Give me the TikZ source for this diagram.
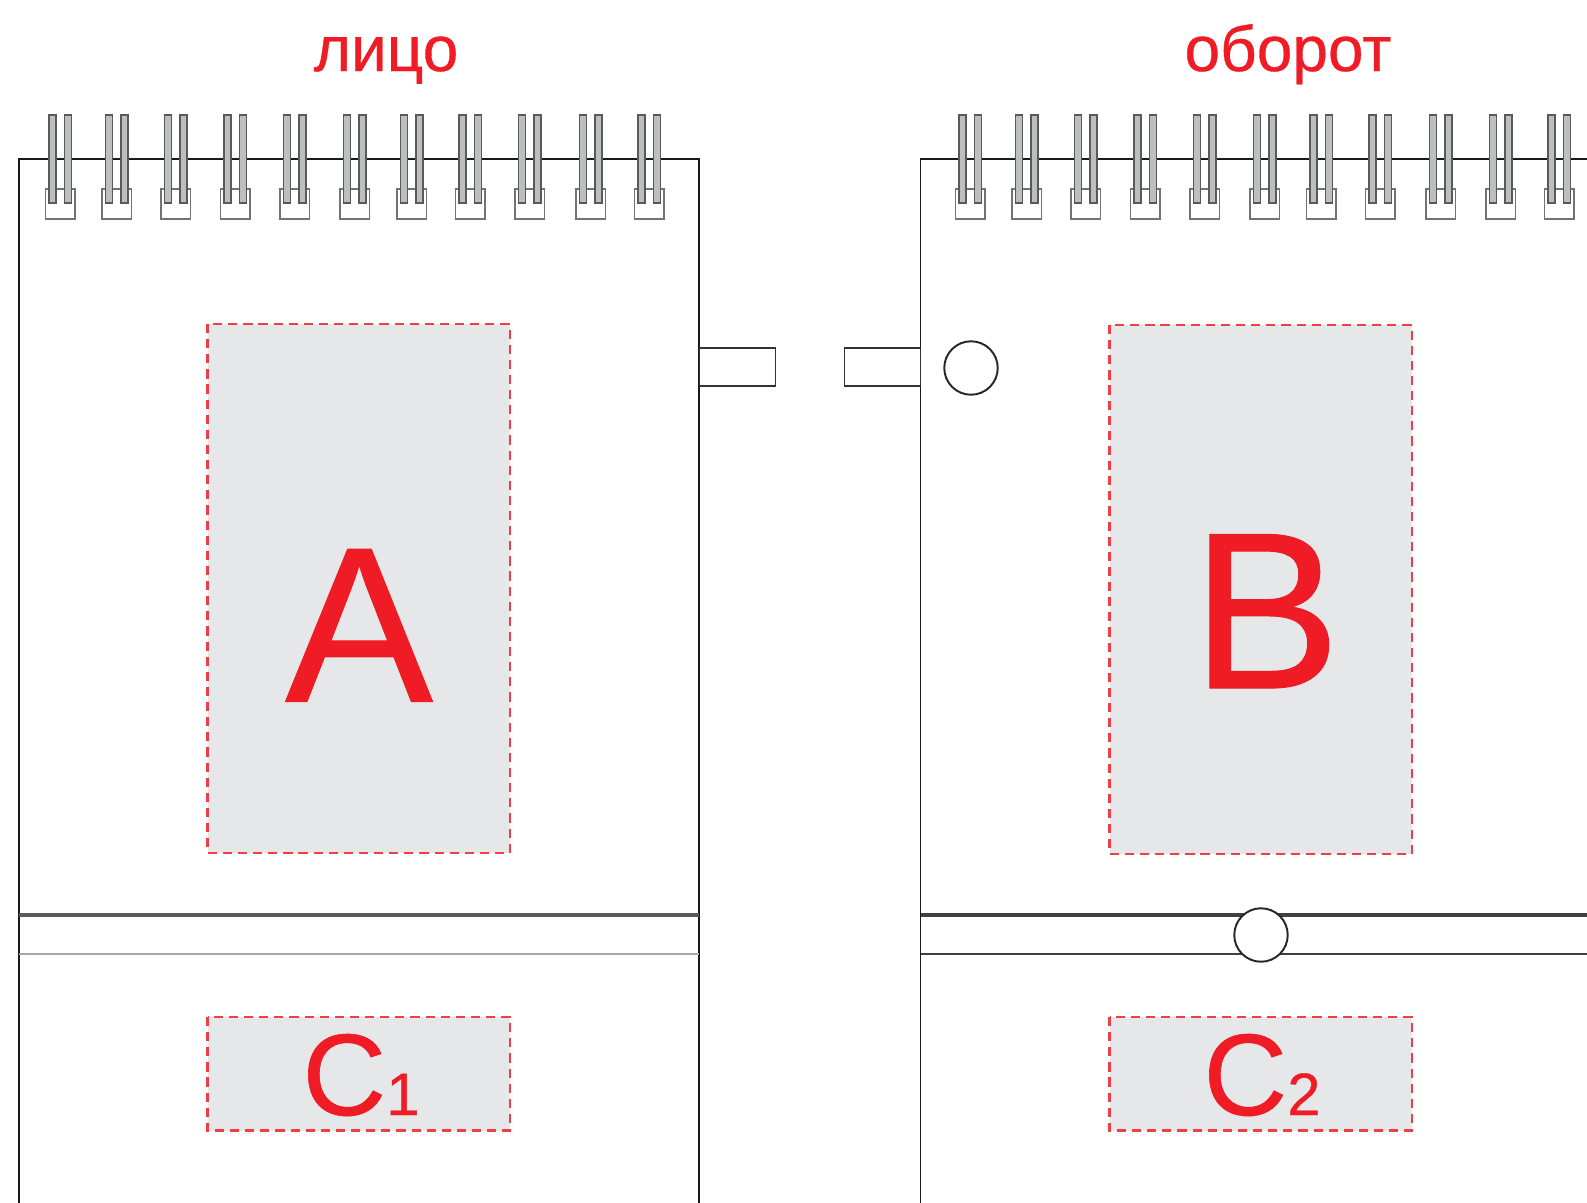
\documentclass[tikz,border=0pt]{standalone}
\usepackage{fontspec}
\setmainfont{Liberation Sans}
\newfontfamily\markfont[FakeBold=0.5]{Liberation Sans}
\definecolor{markred}{HTML}{EF1C25}
\definecolor{zonegray}{HTML}{E6E7E8}
\definecolor{wiregray}{HTML}{BCBEC0}
\tikzset{
  zone/.style={draw=markred!85,fill=zonegray,dash pattern=on 2.6pt off 1.7pt,line width=.6pt},
  tabbox/.style={draw=black!80,fill=white,line width=.55pt,inner sep=0pt,minimum width=21.6pt,minimum height=10.8pt},
  hole/.style={circle,draw=black!85,fill=white,line width=.55pt,inner sep=0pt,minimum size=15.2pt},
  redtext/.style={text=markred,inner sep=0pt}
}
\newcommand{\wire}[1]{
  \draw [draw=black!65,fill=wiregray,line width=.4pt] (#1+3.5,115) rectangle (#1+10.5,203);
  \draw [draw=black!65,fill=wiregray,line width=.4pt] (#1+19,115) rectangle (#1+26,203);
}
\begin{document}
\begin{tikzpicture}[x=.01cm,y=-.01cm,line width=.55pt]
\useasboundingbox (0,0) rectangle (1587,1203);
% pages
\draw [black!90] (19,1203) -- (19,159) -- (699,159) -- (699,1203);
\draw [black!90] (920.5,1203) -- (920.5,159) -- (1587,159);
% folds
\coordinate (foldaL) at (19,915);
\coordinate (foldaR) at (699,915);
\coordinate (foldbL) at (19,954);
\coordinate (foldbR) at (699,954);
\coordinate (foldcL) at (920.5,915);
\coordinate (foldcR) at (1587,915);
\coordinate (folddL) at (920.5,954);
\coordinate (folddR) at (1587,954);
\draw [black!65,line width=.9pt] (foldaL) -- (foldaR);
\draw [black!35,line width=.6pt] (foldbL) -- (foldbR);
\draw [black!75,line width=.9pt] (foldcL) -- (foldcR);
\draw [black!75,line width=.55pt] (folddL) -- (folddR);
% wires
\foreach \x in {45.5,102,161,220.6,280,340,397,455.5,515,576,634.6,955.4,1012,1071,1130.5,1190,1250,1306.6,1365.4,1426,1486,1544.5}{
  \draw [black!55,fill=white,line width=.35pt] (\x,189) rectangle (\x+29.5,219);
  \wire{\x}
}
% zones
\draw [zone] (207.5,324) rectangle (510,853);
\draw [zone] (1109.5,325) rectangle (1412,854);
\draw [zone] (207.5,1017) rectangle (510,1130.5);
\draw [zone] (1109.5,1017) rectangle (1412,1130.5);
% tabs, holes
\node [tabbox] (tabL) at (737.5,366.7) {};
\node [tabbox] (tabR) at (882.5,366.7) {};
\node [hole] (holeA) at (971,368) {};
\node [hole] (holeB) at (1261,935) {};
% labels
\node [redtext,anchor=base,font=\markfont\fontsize{18.2}{20}\selectfont] (front) at (386,71) {лицо};
\node [redtext,anchor=base,font=\markfont\fontsize{18.2}{20}\selectfont] (back) at (1288,71) {оборот};
\node [redtext,anchor=base,font=\markfont\fontsize{63}{66}\selectfont] (zoneA) at (359,701.5) {A};
\node [redtext,anchor=base,font=\markfont\fontsize{63.5}{66}\selectfont] (zoneB) at (1266,688) {B};
\node [redtext,anchor=base,font=\markfont\fontsize{33}{36}\selectfont] (zoneCa) at (361,1115) {C\fontsize{17}{20}\selectfont 1};
\node [redtext,anchor=base,font=\markfont\fontsize{33}{36}\selectfont] (zoneCb) at (1262,1115) {C\fontsize{17}{20}\selectfont 2};
\end{tikzpicture}
\end{document}
